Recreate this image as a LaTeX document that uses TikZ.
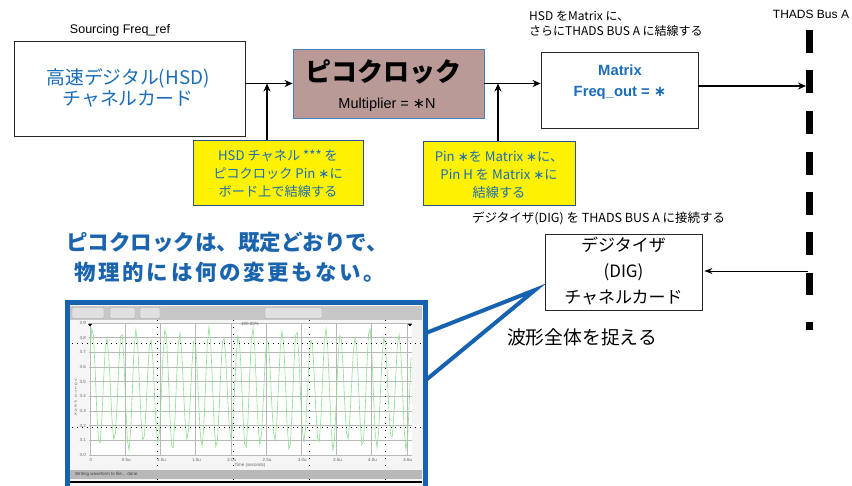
\documentclass[tikz,border=0pt]{standalone}
\usepackage{fontspec}
\setmainfont{Liberation Sans}
\newfontfamily\jp{Noto Sans CJK JP}
\newfontfamily\jpwide{Noto Sans CJK JP}[LetterSpace=12]
\newfontfamily\dv{DejaVu Sans}
\usetikzlibrary{arrows.meta}
\definecolor{txtblue}{HTML}{1A6DB8}
\definecolor{headblue}{HTML}{1A64AE}
\definecolor{frameblue}{HTML}{1662B0}
\definecolor{picofill}{HTML}{BA9A97}
\definecolor{picoedge}{HTML}{4A7EBB}
\definecolor{yedge}{HTML}{2F4F8F}
\definecolor{wavegreen}{HTML}{8FE08F}
\newcommand{\mystar}{{\dv ∗}}
\tikzset{
  whitebox/.style={draw=black!85, fill=white, line width=0.8pt, inner sep=0pt},
  notebox/.style={draw=yedge, fill=yellow, line width=0.7pt, inner sep=0pt},
  arr/.style={-{Stealth[length=8pt,width=7pt]}, line width=1.4pt},
  thinarr/.style={-{Stealth[length=8pt,width=6pt]}, line width=0.9pt},
  small/.style={font=\jp\fontsize{12}{15.5}\selectfont, inner sep=0pt},
  tiny/.style={font=\fontsize{4.5}{5}\selectfont, text=black!60, inner sep=0pt},
}
\begin{document}
\begin{tikzpicture}[x=1pt,y=-1pt]
\useasboundingbox (0,0) rectangle (852,486);
\fill[white] (0,0) rectangle (852,486);

% top labels
\node[font=\fontsize{12.5}{14}\selectfont, inner sep=0pt] (srclbl) at (120,30) {Sourcing Freq\_ref};
\node[small, anchor=north west, align=left] (mlbl) at (529,10.5) {HSD をMatrix に、\\さらにTHADS BUS A に結線する};
\node[font=\fontsize{12}{14}\selectfont, inner sep=0pt] (buslbl) at (811,14) {THADS Bus A};

% HSD card
\node[whitebox, minimum width=231pt, minimum height=95pt] (hsd) at (129.5,88.5) {};
\node[font=\jp\fontsize{18.8}{21}\selectfont, text=txtblue, align=center, inner sep=0pt] (hsdt) at (128,88) {高速デジタル(HSD)\\チャネルカード};

% Picoclock
\node[draw=picoedge, fill=picofill, line width=0.8pt, minimum width=191pt, minimum height=69pt, inner sep=0pt] (pico) at (388.5,83.5) {};
\node[font=\jp\bfseries\fontsize{26}{28}\selectfont, inner sep=0pt] (picot) at (383,72) {ピコクロック};
\node[font=\fontsize{14.5}{15}\selectfont, inner sep=0pt] (picom) at (387,104.5) {Multiplier = \mystar N};

% Matrix
\node[whitebox, minimum width=157pt, minimum height=76pt] (mat) at (619.5,90) {};
\node[font=\bfseries\fontsize{14.8}{21}\selectfont, text=txtblue, align=center, inner sep=0pt] (matt) at (620,82.5) {Matrix\\Freq\_out = \mystar};

% Notes
\node[notebox, minimum width=170pt, minimum height=65pt] (y1) at (278,172.5) {};
\node[font=\jp\fontsize{13.2}{18}\selectfont, text=txtblue, align=center, inner sep=0pt] (y1t) at (278,174) {HSD チャネル *** を\\ピコクロック Pin \mystar に\\ボード上で結線する};
\node[notebox, minimum width=152pt, minimum height=64pt] (y2) at (499,173) {};
\node[font=\jp\fontsize{13.2}{18}\selectfont, text=txtblue, align=center, inner sep=0pt] (y2t) at (499,174.5) {Pin \mystar を Matrix \mystar に、\\Pin H を Matrix \mystar に\\結線する};

% junctions
\coordinate (j1) at (267,83.5);
\coordinate (j2) at (498,83.5);
\coordinate (busA) at (806,86);
\coordinate (busB) at (808,271);

% connectors
\draw[arr] (hsd.east |- pico.west) -- (pico.west);
\draw[arr] (y1.north -| j1) -- (j1);
\draw[arr] (pico.east) -- (pico.east -| mat.west);
\draw[arr] (y2.north -| j2) -- (j2);
\draw[arr] (mat.east |- busA) -- (busA);

% bus
\foreach \a/\b in {30/53, 70/93, 111/134, 152/175, 192/215, 232/255, 273/295, 322/330}
  \fill[black] (806,\a) rectangle (812.5,\b);

% DIG
\node[small, anchor=west, font=\jp\fontsize{12.5}{15}\selectfont] (diglbl) at (472,218) {デジタイザ(DIG) を THADS BUS A に接続する};
\node[whitebox, minimum width=157pt, minimum height=76pt] (dig) at (623.5,272) {};
\node[font=\jp\fontsize{17}{26}\selectfont, align=center, inner sep=0pt] (digt) at (623.5,271) {デジタイザ\\(DIG)\\チャネルカード};
\draw[thinarr] (busB) -- ([xshift=2pt]dig.east |- busB);

\node[font=\jp\fontsize{18.8}{20}\selectfont, inner sep=0pt] (wave) at (582,337) {波形全体を捉える};

% heading
\node[font=\jp\bfseries\fontsize{21.5}{30}\selectfont, text=headblue, inner sep=0pt] (head1) at (227,242) {ピコクロックは、既定どおりで、};
\node[font=\jpwide\bfseries\fontsize{21.5}{30}\selectfont, text=headblue, inner sep=0pt] (head2) at (230,272) {物理的には何の変更もない。};

% screenshot
\begin{scope}
\clip (0,0) rectangle (852,486);
\fill[black!4] (69,305) rectangle (423,490);
% top bar
\fill[black!22] (70,306) rectangle (422,320);
\foreach \a/\b in {72/104, 110/135, 140/160, 265/322}
  \draw[black!35, fill=black!12, rounded corners=1pt] (\a,307.5) rectangle (\b,318.5);
\fill[white] (89,323) rectangle (412,455);
% grid
\foreach \k in {0,...,9}
  \draw[black!28, line width=0.5pt] (89,{323+\k*14.667}) -- (412,{323+\k*14.667});
\foreach \k in {0,...,9}
  \draw[black!28, line width=0.5pt] ({90+\k*35.2},323) -- ({90+\k*35.2},455);
% waveform
\draw[wavegreen, line width=0.6pt] plot[domain=90:411, samples=190] (\x, {389 - (56+6*cos(9*(\x-90)))*sin(24.6575*(\x-90) + 35)});
% dotted
\foreach \y in {343,427}
  \draw[black, line width=0.9pt, dash pattern=on 0.9pt off 4pt] (72,\y) -- (422,\y);
\foreach \x in {157,233,309,385}
  \draw[black, line width=0.9pt, dash pattern=on 0.9pt off 6pt] (\x,320) -- (\x,480);
% axis labels
\foreach \k/\v in {0/3.9,1/3.8,2/3.7,3/3.6,4/3.5,5/3.4,6/3.3,7/3.2,8/3.1,9/3.0}
  \node[tiny, anchor=east] (yl\k) at (86,{323+\k*14.667}) {\v};
\foreach \k/\v in {0/0,1/0.5u,2/1.0u,3/1.5u,4/2.0u,5/2.5u,6/3.0u,7/3.5u,8/4.0u,9/4.6u}
  \node[tiny] (xl\k) at ({91+\k*35.2},459.5) {\v};
\node[tiny] (xt) at (250,465) {Time (seconds)};
\node[tiny] (pct) at (250,323.5) {100.00\%};
\node[tiny, align=center, font=\fontsize{3.8}{4.2}\selectfont] (vlab) at (76,397) {V\\O\\L\\T\\S\\[1pt]P\\E\\A\\K};
\fill[black] (88,324) -- (92,324) -- (90,326.5) -- cycle;
\fill[black] (408,324) -- (412,324) -- (410,326.5) -- cycle;
% status bar
\fill[black!28] (70,470) rectangle (422,479);
\node[tiny, anchor=west, text=black!75] (stat) at (75,474.5) {Writing waveform to file... done.};
\draw[black, line width=1.2pt] (70,482) -- (422,482);
% frame
\draw[frameblue, line width=5pt] (67,303) rectangle (425,500);
\end{scope}

% callout
\coordinate (ctip) at (535,290);
\draw[frameblue, line width=4pt, line join=miter, miter limit=20] (426,333) -- (ctip) -- (426,380);
\end{tikzpicture}
\end{document}
